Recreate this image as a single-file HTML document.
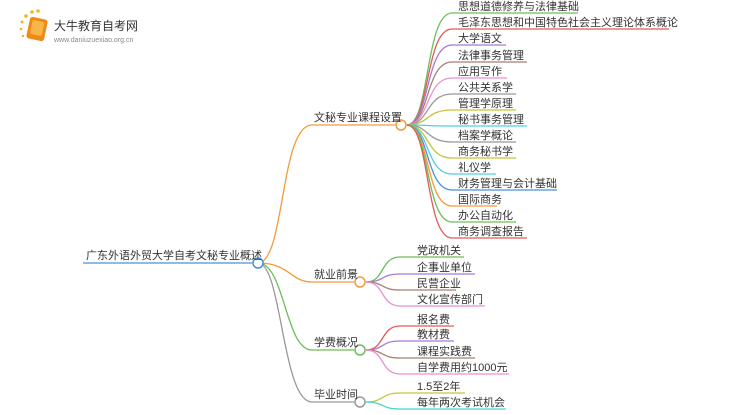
<!DOCTYPE html>
<html><head><meta charset="utf-8"><style>
body{margin:0;background:#fff;width:750px;height:410px;overflow:hidden}
svg text{font-family:"Liberation Sans","Noto Sans CJK SC",sans-serif;font-size:11px;fill:#333}
</style></head><body>
<svg width="750" height="410" viewBox="0 0 750 410" xmlns="http://www.w3.org/2000/svg">
<g fill="#f5b324"><circle cx="22" cy="22" r="1.5"/><circle cx="26" cy="16" r="1.8"/><circle cx="32" cy="12" r="1.8"/><circle cx="38" cy="11" r="1.8"/><circle cx="21" cy="29" r="1.3"/><circle cx="23" cy="36" r="1.2"/></g>
<rect x="28" y="18" width="18" height="22" rx="3" fill="#f08a16" transform="rotate(12 37 29)"/>
<rect x="31" y="21" width="12" height="14" rx="2" fill="#f7b54a" transform="rotate(12 37 29)"/>
<text x="54" y="30" style="font-size:12px;fill:#333">大牛教育自考网</text>
<text x="54" y="42" style="font-size:7px;fill:#888">www.daniuzuexiao.org.cn</text>
<g fill="none" stroke-width="1.3">
<path d="M83 263 H252" stroke="#4a90d9"/>
<path d="M258 263 C285 263 280 125 312 125 H395" stroke="#f39a3c"/>
<path d="M258 263 C290 263 290 282 312 282 H354" stroke="#f39a3c"/>
<path d="M258 263 C285 263 285 350 312 350 H354" stroke="#6bbf59"/>
<path d="M258 263 C282 263 282 402 312 402 H354" stroke="#999"/>
<g id="b1">
<path d="M407 125 C430 125 425 13 452 13 H578" stroke="#6bbf59"/>
<path d="M407 125 C430 125 425 29 452 29 H669" stroke="#e05a5a"/>
<path d="M407 125 C430 125 425 45 452 45 H506" stroke="#a678d6"/>
<path d="M407 125 C430 125 425 62 452 62 H527" stroke="#a87f72"/>
<path d="M407 125 C430 125 425 78 452 78 H507" stroke="#ee8fd2"/>
<path d="M407 125 C430 125 425 94 452 94 H516" stroke="#999"/>
<path d="M407 125 C430 125 425 110 452 110 H516" stroke="#c6c43a"/>
<path d="M407 125 C430 125 425 126 452 126 H527" stroke="#4cd2dc"/>
<path d="M407 125 C430 125 425 142 452 142 H516" stroke="#999"/>
<path d="M407 125 C430 125 425 158 452 158 H516" stroke="#c6c43a"/>
<path d="M407 125 C430 125 425 174 452 174 H496" stroke="#4cd2dc"/>
<path d="M407 125 C430 125 425 190 452 190 H557" stroke="#4a90d9"/>
<path d="M407 125 C430 125 425 206 452 206 H497" stroke="#f39a3c"/>
<path d="M407 125 C430 125 425 222 452 222 H516" stroke="#6bbf59"/>
<path d="M407 125 C430 125 425 238 452 238 H527" stroke="#e05a5a"/>
</g>
<path d="M366 282 C385 282 380 257 400 257 H464" stroke="#6bbf59"/>
<path d="M366 282 C385 282 380 274 400 274 H475" stroke="#a678d6"/>
<path d="M366 282 C385 282 380 290 400 290 H456" stroke="#a87f72"/>
<path d="M366 282 C385 282 380 306 400 306 H485" stroke="#ee8fd2"/>
<path d="M366 350 C385 350 380 326 400 326 H454" stroke="#e05a5a"/>
<path d="M366 350 C385 350 380 341 400 341 H454" stroke="#a678d6"/>
<path d="M366 350 C385 350 380 358 400 358 H475" stroke="#a87f72"/>
<path d="M366 350 C385 350 380 374 400 374 H509" stroke="#ee8fd2"/>
<path d="M366 402 C385 402 380 393 400 393 H465" stroke="#c6c43a"/>
<path d="M366 402 C385 402 380 409 400 409 H506" stroke="#4cd2dc"/>
</g>
<g fill="#fff" stroke-width="1.5">
<circle cx="258" cy="263" r="5" stroke="#4a90d9"/>
<circle cx="401" cy="125" r="5" stroke="#f39a3c"/>
<circle cx="360" cy="282" r="5" stroke="#f39a3c"/>
<circle cx="360" cy="350" r="5" stroke="#6bbf59"/>
<circle cx="360" cy="402" r="5" stroke="#999"/>
</g>
<text x="86" y="259">广东外语外贸大学自考文秘专业概述</text>
<text x="314" y="121">文秘专业课程设置</text>
<text x="314" y="278">就业前景</text>
<text x="314" y="346">学费概况</text>
<text x="314" y="398">毕业时间</text>
<g>
<text x="458" y="10">思想道德修养与法律基础</text>
<text x="458" y="26">毛泽东思想和中国特色社会主义理论体系概论</text>
<text x="458" y="42">大学语文</text>
<text x="458" y="59">法律事务管理</text>
<text x="458" y="75">应用写作</text>
<text x="458" y="91">公共关系学</text>
<text x="458" y="107">管理学原理</text>
<text x="458" y="123">秘书事务管理</text>
<text x="458" y="139">档案学概论</text>
<text x="458" y="155">商务秘书学</text>
<text x="458" y="171">礼仪学</text>
<text x="458" y="187">财务管理与会计基础</text>
<text x="458" y="203">国际商务</text>
<text x="458" y="219">办公自动化</text>
<text x="458" y="235">商务调查报告</text>
<text x="417" y="254">党政机关</text>
<text x="417" y="271">企事业单位</text>
<text x="417" y="287">民营企业</text>
<text x="417" y="303">文化宣传部门</text>
<text x="417" y="323">报名费</text>
<text x="417" y="338">教材费</text>
<text x="417" y="355">课程实践费</text>
<text x="417" y="371">自学费用约1000元</text>
<text x="417" y="390">1.5至2年</text>
<text x="417" y="406">每年两次考试机会</text>
</g>
</svg>
</body></html>
